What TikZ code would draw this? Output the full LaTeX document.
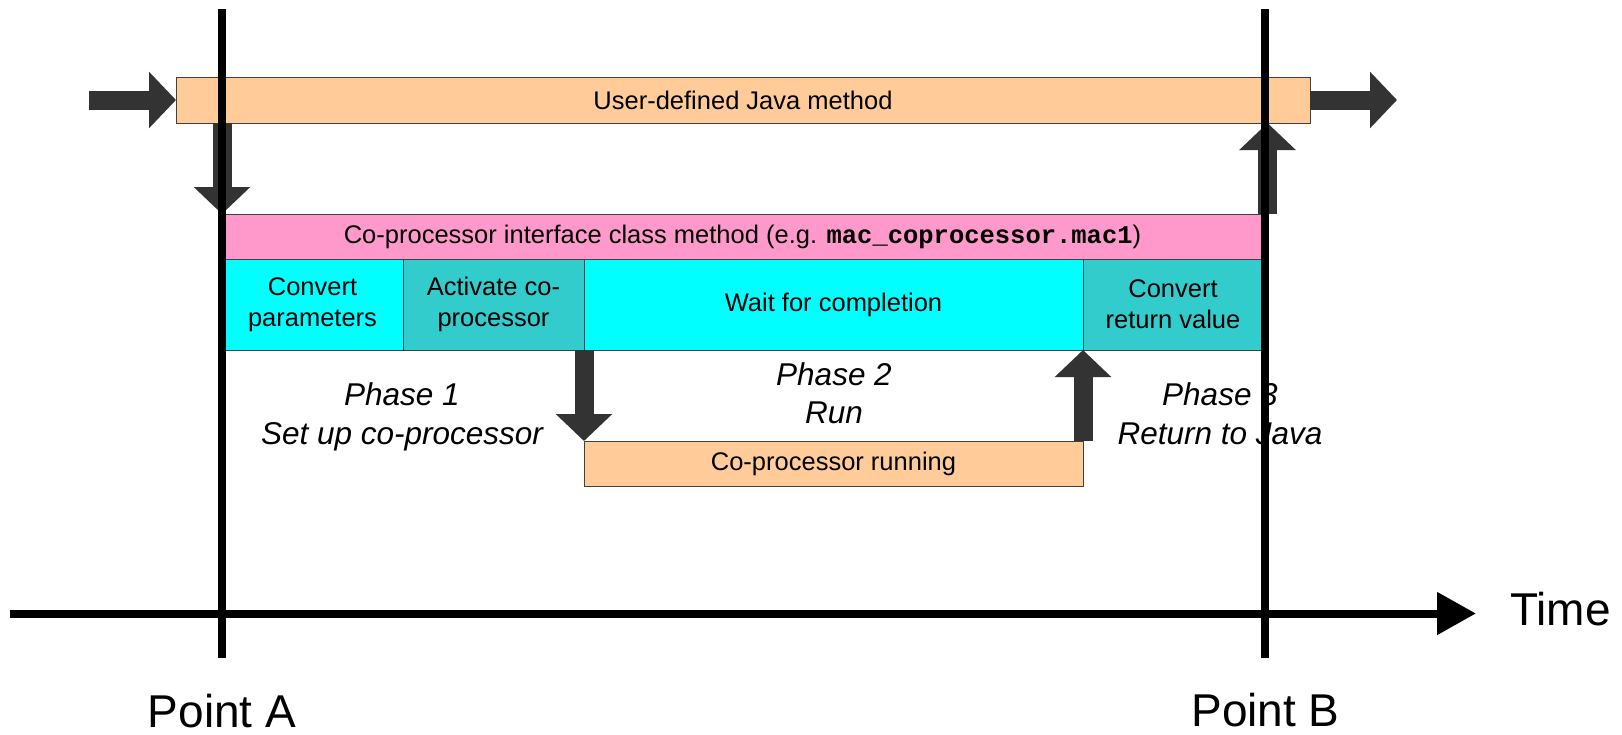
\documentclass[tikz,border=0pt]{standalone}
\usepackage{fontspec}
\setmainfont{Liberation Sans}
\setmonofont{Liberation Mono}
\usetikzlibrary{arrows.meta,calc}

\definecolor{peach}{HTML}{FFCC99}
\definecolor{rose}{HTML}{FF99CC}
\definecolor{aqua}{HTML}{00FFFF}
\definecolor{tealcell}{HTML}{33CCCC}
\definecolor{arrowgray}{HTML}{333333}
\definecolor{edge}{HTML}{404040}

\tikzset{
  box/.style={draw=edge, line width=1pt, inner sep=0pt, outer sep=0pt,
    anchor=north west, align=center,
    font=\fontsize{25.5}{31}\selectfont},
  fat/.style={draw=arrowgray, line width=19pt, line cap=butt,
    -{Triangle[length=27pt,width=55pt]}},
  timeline/.style={line width=8pt, line cap=butt},
  axis/.style={timeline, -{Triangle[length=39pt,width=41pt]}},
  phase/.style={font=\fontsize{31.5}{39}\selectfont\itshape, align=center,
    inner sep=0pt, anchor=base},
  big/.style={font=\fontsize{46}{50}\selectfont, inner sep=0pt},
}

\begin{document}
\begin{tikzpicture}[x=1pt,y=-1pt]
\useasboundingbox (0,0) rectangle (1622,734);

% method bars
\node[box, fill=peach, minimum width=1134, minimum height=46] (java) at (176,77)
  {User-defined Java method};
\node[box, fill=rose, minimum width=1041, minimum height=45] (pink) at (222,214)
  {Co-processor interface class method (e.g. {\ttfamily\bfseries mac\_coprocessor.mac1})};

% steps of the interface method
\node[box, fill=aqua, minimum width=181, minimum height=91] (conv) at (222,259)
  {Convert\\parameters};
\node[box, fill=tealcell, minimum width=181, minimum height=91] (act) at (403,259)
  {Activate co-\\processor};
\node[box, fill=aqua, minimum width=499, minimum height=91] (wait) at (584,259)
  {Wait for completion};
\node[box, fill=tealcell, minimum width=180, minimum height=91] (ret) at (1083,259)
  {Convert\\return value};

% co-processor activity
\node[box, fill=peach, minimum width=499, minimum height=45] (run) at (584,441)
  {Co-processor running};

% reference points
\coordinate (Atop) at (222,9);
\coordinate (Abot) at (222,658);
\coordinate (Btop) at (1265,9);
\coordinate (Bbot) at (1265,658);
\coordinate (upB) at (1267.5,0);
\coordinate (in) at (89,100);
\coordinate (out) at (1397,100);
\coordinate (tstart) at (10,613.5);
\coordinate (tend) at (1476,613.5);

% control flow
\draw[fat] (in) -- (java.west);
\draw[fat] (java.east) -- (out);
\draw[fat] (java.south -| Atop) -- (pink.north -| Atop);
\draw[fat] (pink.north -| upB) -- (java.south -| upB);
\draw[fat] (act.south east) -- (run.north west);
\draw[fat] (run.north east) -- (ret.south west);

% phase labels (anchored on the baseline of their last line)
\node[phase] (ph1) at (402,444) {Phase 1\\Set up co-processor};
\node[phase, font=\fontsize{31.5}{38}\selectfont\itshape] (ph2) at (834,423) {Phase 2\\Run};
\node[phase] (ph3) at (1220,444) {Phase 3\\Return to Java};

% time axis and markers
\draw[axis] (tstart) -- (tend);
\draw[timeline] (Atop) -- (Abot);
\draw[timeline] (Btop) -- (Bbot);

\node[big, anchor=base west] (time) at (1510,625) {Time};
\node[big, anchor=base] (ptA) at (222,727) {Point A};
\node[big, anchor=base] (ptB) at (1265.5,726) {Point B};
\end{tikzpicture}
\end{document}
